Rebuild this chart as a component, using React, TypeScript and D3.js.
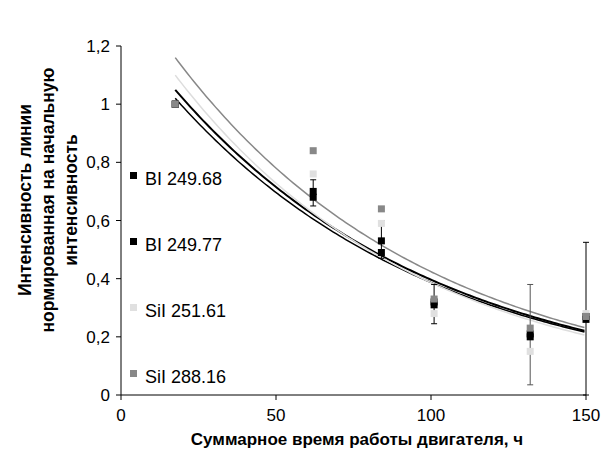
import * as d3 from 'd3';

const xs = [17.5, 62, 84, 101, 132, 150];
const series = [
  { name: 'BI 249.68', color: '#000', values: [1.0, 0.70, 0.53, 0.32, 0.21, 0.27] },
  { name: 'BI 249.77', color: '#000', values: [1.0, 0.68, 0.49, 0.31, 0.20, 0.26] },
  { name: 'SiI 251.61', color: '#e0e0e0', values: [1.0, 0.76, 0.59, 0.28, 0.15, 0.28] },
  { name: 'SiI 288.16', color: '#888', values: [1.0, 0.84, 0.64, 0.33, 0.23, 0.27] },
];
// error bars: [x, low, high, color]
const errBars: [number, number, number, string][] = [
  [62, 0.65, 0.74, '#000'],
  [84, 0.47, 0.6, '#000'],
  [101, 0.245, 0.38, '#000'],
  [132, 0.035, 0.38, '#555'],
  [150, 0.0, 0.525, '#000'],
];
// exponential fits a*exp(-b*x)
const fits = [
  { a: 1.29, b: 0.0118, color: '#000', w: 2 },
  { a: 1.253, b: 0.01175, color: '#000', w: 1.5 },
  { a: 1.373, b: 0.01268, color: '#ddd', w: 1.5 },
  { a: 1.436, b: 0.0122, color: '#888', w: 1.5 },
];
const xTicks = [0, 50, 100, 150];
const yTicks = [0, 0.2, 0.4, 0.6, 0.8, 1, 1.2];

export default function App() {
  const x = d3.scaleLinear().domain([0, 150]).range([121, 586]);
  const y = d3.scaleLinear().domain([0, 1.2]).range([395, 46]);
  const grid = d3.range(17.5, 150.01, 1);
  const font = 'Arial, Liberation Sans, sans-serif';
  // draw order: light, black, then grey on top (as in reference at x=17.5)
  const order = [2, 1, 0, 3];
  return (
    <svg width={602} height={454} style={{ position: 'absolute', left: 0, top: 0, background: '#fff' }} fontFamily={font}>
      {fits.map((f, i) => (
        <path key={i} fill="none" stroke={f.color} strokeWidth={f.w}
          d={d3.line<number>().x(d => x(d)).y(d => y(f.a * Math.exp(-f.b * d)))(grid) || ''} />
      ))}
      {errBars.map(([ex, lo, hi, c], i) => (
        <g key={i} stroke={c} strokeWidth={1}>
          <line x1={x(ex)} x2={x(ex)} y1={y(lo)} y2={y(hi)} />
          <line x1={x(ex) - 3} x2={x(ex) + 3} y1={y(lo)} y2={y(lo)} />
          <line x1={x(ex) - 3} x2={x(ex) + 3} y1={y(hi)} y2={y(hi)} />
        </g>
      ))}
      {order.map(si => series[si].values.map((v, j) => (
        <rect key={si + '-' + j} x={x(xs[j]) - 3.5} y={y(v) - 3.5} width={7} height={7} fill={series[si].color} />
      )))}
      <line x1={121} x2={121} y1={46} y2={395} stroke="#000" />
      <line x1={121} x2={586} y1={395} y2={395} stroke="#000" />
      {yTicks.map(t => (
        <g key={t}>
          <line x1={116} x2={121} y1={y(t)} y2={y(t)} stroke="#000" />
          <text x={110} y={y(t) + 6} textAnchor="end" fontSize={17}>{String(t).replace('.', ',')}</text>
        </g>
      ))}
      {xTicks.map(t => (
        <g key={t}>
          <line x1={x(t)} x2={x(t)} y1={395} y2={400} stroke="#000" />
          <text x={x(t)} y={421} textAnchor="middle" fontSize={17}>{t}</text>
        </g>
      ))}
      {series.map((s, i) => (
        <g key={s.name}>
          <rect x={130} y={175 + i * 66 - 3} width={7} height={7} fill={s.color} />
          <text x={145} y={178 + i * 66 + 7} fontSize={18}>{s.name}</text>
        </g>
      ))}
      <text x={357} y={445} textAnchor="middle" fontSize={17} fontWeight="bold">Суммарное время работы двигателя, ч</text>
      <text transform="translate(0,200) rotate(-90)" textAnchor="middle" fontSize={17.5} fontWeight="bold">
        <tspan x={0} y={31}>Интенсивность линии</tspan>
        <tspan x={0} y={54}>нормированная на начальную</tspan>
        <tspan x={0} y={77}>интенсивность</tspan>
      </text>
    </svg>
  );
}
